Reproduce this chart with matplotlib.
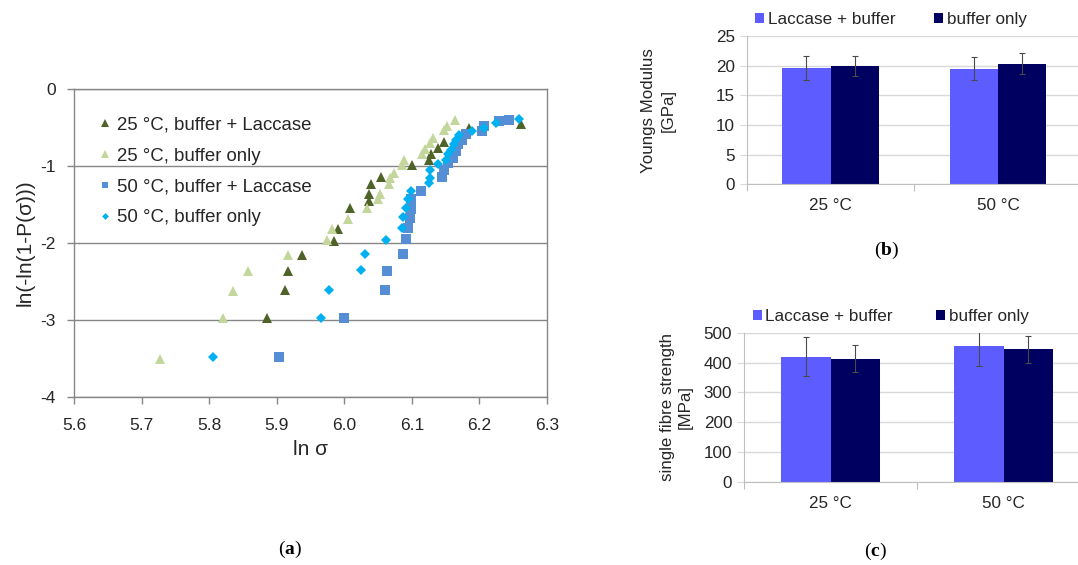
import matplotlib
matplotlib.use('Agg')
import matplotlib.pyplot as plt

plt.rcParams['font.family'] = ['Liberation Sans', 'DejaVu Sans']
plt.rcParams['mathtext.fontset'] = 'custom'
plt.rcParams['mathtext.rm'] = 'Liberation Serif'
plt.rcParams['mathtext.bf'] = 'Liberation Serif:bold'

# (a) Weibull plot data: ln sigma vs ln(-ln(1-P))
lac25_x = [5.885, 5.913, 5.917, 5.937, 5.985, 5.990, 6.009, 6.036, 6.037, 6.039,
           6.054, 6.100, 6.125, 6.128, 6.138, 6.147, 6.184, 6.261]
lac25_y = [-2.97, -2.61, -2.36, -2.15, -1.97, -1.82, -1.54, -1.46, -1.37, -1.24,
           -1.14, -0.99, -0.92, -0.85, -0.77, -0.69, -0.51, -0.46]
buf25_x = [5.728, 5.820, 5.835, 5.857, 5.916, 5.975, 5.982, 6.005, 6.033, 6.050,
           6.053, 6.066, 6.068, 6.073, 6.085, 6.089, 6.115, 6.119, 6.127, 6.132,
           6.147, 6.152, 6.164]
buf25_y = [-3.50, -2.97, -2.62, -2.36, -2.15, -1.96, -1.82, -1.69, -1.55, -1.43,
           -1.37, -1.24, -1.15, -1.09, -0.99, -0.92, -0.85, -0.78, -0.70, -0.63,
           -0.53, -0.48, -0.40]
lac50_x = [5.904, 6.000, 6.060, 6.063, 6.087, 6.092, 6.094, 6.097, 6.098, 6.099,
           6.113, 6.145, 6.147, 6.154, 6.161, 6.165, 6.169, 6.174, 6.180, 6.204,
           6.207, 6.229, 6.244]
lac50_y = [-3.48, -2.97, -2.61, -2.36, -2.14, -1.95, -1.81, -1.68, -1.56, -1.43,
           -1.33, -1.14, -1.05, -0.96, -0.89, -0.81, -0.72, -0.66, -0.59, -0.55,
           -0.48, -0.42, -0.40]
buf50_x = [5.806, 5.965, 5.978, 6.025, 6.030, 6.062, 6.086, 6.087, 6.091, 6.094,
           6.098, 6.125, 6.127, 6.127, 6.139, 6.150, 6.153, 6.158, 6.162, 6.166,
           6.170, 6.189, 6.207, 6.224, 6.258]
buf50_y = [-3.48, -2.97, -2.61, -2.35, -2.14, -1.96, -1.80, -1.66, -1.54, -1.43,
           -1.33, -1.22, -1.15, -1.05, -0.97, -0.92, -0.85, -0.79, -0.72, -0.66,
           -0.60, -0.55, -0.51, -0.44, -0.39]
scatter_labels = ['25 °C, buffer + Laccase', '25 °C, buffer only',
                  '50 °C, buffer + Laccase', '50 °C, buffer only']

# (b), (c) bar data
categories = ['25 °C', '50 °C']
bar_labels = ['Laccase + buffer', 'buffer only']
modulus_lac = [19.6, 19.5]
modulus_lac_err = [1.95, 1.95]
modulus_buf = [20.0, 20.3]
modulus_buf_err = [1.7, 1.75]
strength_lac = [420, 455]
strength_lac_err = [65, 65]
strength_buf = [413, 444]
strength_buf_err = [46, 46]

W, H = 1078, 565
fig = plt.figure(figsize=(W / 100, H / 100), dpi=100)

def px_axes(l, t, r, b):
    return fig.add_axes([l / W, 1 - b / H, (r - l) / W, (b - t) / H])

text_c = '#262626'
gray = '#868686'

# ---- (a) ----
ax = px_axes(74, 89, 547, 397)
ax.plot(lac25_x, lac25_y, '^', color='#4F6228', ms=7.2, mew=0, label=scatter_labels[0])
ax.plot(buf25_x, buf25_y, '^', color='#C3D69B', ms=7.2, mew=0, label=scatter_labels[1])
ax.plot(lac50_x, lac50_y, 's', color='#558ED5', ms=6.6, mew=0, label=scatter_labels[2])
ax.plot(buf50_x, buf50_y, 'D', color='#00B0F0', ms=4.6, mew=0, label=scatter_labels[3])
ax.set_xlim(5.6, 6.3)
ax.set_ylim(-4, 0)
ax.set_xticks([5.6, 5.7, 5.8, 5.9, 6.0, 6.1, 6.2, 6.3])
ax.set_yticks([-4, -3, -2, -1, 0])
ax.set_yticklabels(['-4', '-3', '-2', '-1', '0'])
ax.grid(axis='y', color=gray, linewidth=1)
for s in ax.spines.values():
    s.set_color(gray)
    s.set_linewidth(1)
ax.tick_params(colors=gray, labelcolor=text_c, labelsize=12.5, length=5, width=1)
ax.tick_params(axis='x', pad=10)
ax.tick_params(axis='y', pad=8)
ax.set_xlabel('ln σ', fontsize=15, color=text_c, labelpad=5)
ax.set_ylabel('ln(-ln(1-P(σ)))', fontsize=15, color=text_c, labelpad=4)
ax.legend(loc='upper left', bbox_to_anchor=(0.05, 0.91), frameon=False, fontsize=13.4,
          handlelength=0.8, handletextpad=0.25, labelspacing=0.74, markerscale=0.75,
          borderpad=0, borderaxespad=0, labelcolor=text_c)
fig.text(290 / W, 1 - 549 / H, r'$\mathrm{(}\mathbf{a}\mathrm{)}$', fontsize=14,
         ha='center', va='center', color='black')

# ---- bar panels ----
bw = 0.287
lac_color = '#5C5CFF'
buf_color = '#000060'

def bar_panel(box, lac, lac_err, buf, buf_err, ymax, step, ylabel, lpad, lspace, colsp, tag, tag_xy):
    a = px_axes(*box)
    xs = range(len(categories))
    a.bar([x - bw / 2 for x in xs], lac, bw, color=lac_color, label=bar_labels[0], zorder=2)
    a.bar([x + bw / 2 for x in xs], buf, bw, color=buf_color, label=bar_labels[1], zorder=2)
    a.errorbar([x - bw / 2 for x in xs], lac, yerr=lac_err, fmt='none', ecolor='#4a4a4a',
               elinewidth=0.8, capsize=2.5, capthick=0.8, zorder=3)
    a.errorbar([x + bw / 2 for x in xs], buf, yerr=buf_err, fmt='none', ecolor='#4a4a4a',
               elinewidth=0.8, capsize=2.5, capthick=0.8, zorder=3)
    a.set_xlim(-0.5, 1.5)
    a.set_ylim(0, ymax)
    a.set_yticks(range(0, ymax + 1, step))
    a.set_xticks([-0.5, 0.5, 1.5])
    a.set_xticks([0, 1], minor=True)
    a.set_xticklabels(['', '', ''])
    a.set_xticklabels(categories, minor=True)
    a.tick_params(which='both', labelsize=12.3, labelcolor=text_c)
    a.tick_params(axis='x', which='minor', length=0, pad=10)
    a.tick_params(axis='x', which='major', length=5, color='#bfbfbf')
    a.tick_params(axis='y', length=5, color='#d9d9d9')
    a.grid(axis='y', color='#d9d9d9', linewidth=1, zorder=0)
    a.set_axisbelow(True)
    for k in ['top', 'right']:
        a.spines[k].set_visible(False)
    a.spines['left'].set_color('#bfbfbf')
    a.spines['bottom'].set_color('#bfbfbf')
    a.set_ylabel(ylabel, fontsize=12.2, color=text_c, labelpad=lpad, linespacing=lspace)
    a.legend(loc='lower left', bbox_to_anchor=(0.025, 1.06), ncol=2, frameon=False,
             fontsize=12.3, handlelength=0.55, handleheight=0.55, handletextpad=0.2,
             columnspacing=colsp, borderpad=0, borderaxespad=0, labelcolor=text_c)
    fig.text(tag_xy[0] / W, 1 - tag_xy[1] / H, r'$\mathrm{(}\mathbf{%s}\mathrm{)}$' % tag,
             fontsize=14, ha='center', va='center', color='black')
    return a

bar_panel((746.7, 36, 1082, 184.3), modulus_lac, modulus_lac_err, modulus_buf, modulus_buf_err,
          25, 5, 'Youngs Modulus\n[GPa]', 29, 1.35, 2.25, 'b', (887, 250))
bar_panel((744, 332.7, 1090, 482), strength_lac, strength_lac_err, strength_buf, strength_buf_err,
          500, 100, 'single fibre strength\n[MPa]', 8, 1.2, 2.5, 'c', (875, 551))

fig.savefig('out.png', dpi=100)
